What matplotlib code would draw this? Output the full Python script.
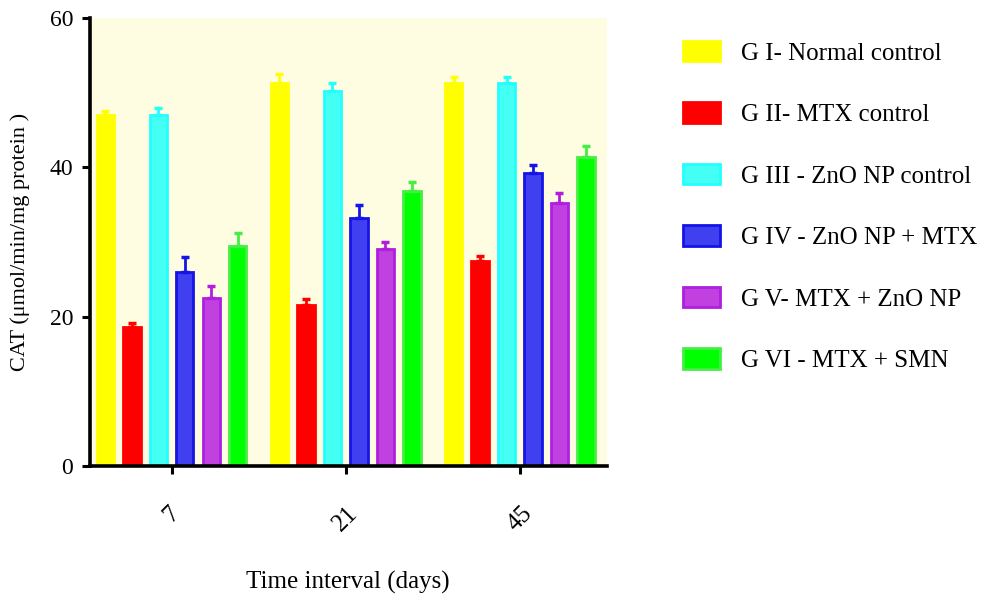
import numpy as np
import matplotlib.pyplot as plt

# CAT activity at each time interval
days = ["7", "21", "45"]
groups = ["G I- Normal control", "G II- MTX control", "G III - ZnO NP control",
          "G IV - ZnO NP + MTX", "G V- MTX + ZnO NP", "G VI - MTX + SMN"]
g1 = [47.0, 51.3, 51.3]
g2 = [18.6, 21.6, 27.4]
g3 = [47.0, 50.2, 51.3]
g4 = [26.0, 33.2, 39.2]
g5 = [22.5, 29.0, 35.2]
g6 = [29.5, 36.8, 41.4]
e1 = [0.6, 1.2, 0.8]
e2 = [0.5, 0.8, 0.7]
e3 = [0.9, 1.1, 0.8]
e4 = [2.0, 1.7, 1.1]
e5 = [1.6, 1.0, 1.3]
e6 = [1.7, 1.2, 1.4]

faces = ['#FFFF00', '#FF0000', '#44FFF4', '#4040F0', '#C040E0', '#00FF00']
edges = ['#FFFF00', '#FF0000', '#22FFFF', '#1414E6', '#B01EE0', '#44EE44']

plt.rcParams['font.family'] = ['Liberation Serif', 'DejaVu Serif']

fig = plt.figure(figsize=(10.08, 6.01), dpi=100)
ax = fig.add_axes([0.089, 0.225, 0.513, 0.745])
ax.set_facecolor('#FFFDE1')

x = np.arange(len(days))
step = 0.152
width = 0.10
vals = [g1, g2, g3, g4, g5, g6]
errs = [e1, e2, e3, e4, e5, e6]
for i in range(6):
    pos = x + (i - 2.5) * step
    ax.bar(pos, vals[i], width, color=faces[i], edgecolor=edges[i], linewidth=2,
           label=groups[i], zorder=2)
    ax.errorbar(pos, vals[i], yerr=[np.zeros(3), errs[i]], fmt='none', ecolor=edges[i],
                elinewidth=2, capsize=3.2, capthick=2.5, zorder=3)

ax.set_xlim(-0.47, 2.5)
ax.set_ylim(0, 60)
ax.set_yticks([0, 20, 40, 60])
ax.set_xticks(x)
ax.set_xticklabels(days, rotation=45, fontsize=18, family=['Liberation Serif'])
ax.tick_params(axis='x', pad=20)
ax.tick_params(axis='y', labelsize=17, pad=6)
ax.tick_params(length=6, width=2.2)
for s in ['top', 'right']:
    ax.spines[s].set_visible(False)
for s in ['left', 'bottom']:
    ax.spines[s].set_linewidth(2.6)

ax.set_xlabel("Time interval (days)", fontsize=18, labelpad=26)
ax.set_ylabel("CAT (μmol/min/mg protein )", fontsize=16, labelpad=14)

fig.legend(loc='upper left', bbox_to_anchor=(0.655, 0.97), frameon=False,
           fontsize=18, handlelength=1.5, handleheight=0.9, labelspacing=1.5,
           handletextpad=0.85)

fig.savefig("out.png", dpi=100)
